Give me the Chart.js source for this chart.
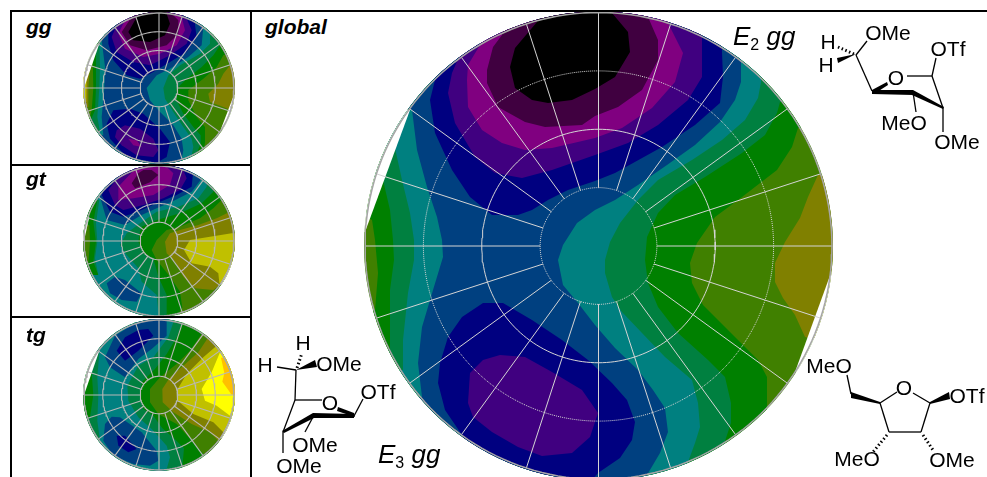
<!DOCTYPE html>
<html><head><meta charset="utf-8">
<script src="https://cdn.jsdelivr.net/npm/chart.js@4/dist/chart.umd.min.js"></script>
<style>
html,body{margin:0;padding:0;background:#fff;width:987px;height:477px;overflow:hidden;font-family:"Liberation Sans",Arial,sans-serif}
canvas{position:absolute;display:block}
.rule{position:absolute;background:#000;z-index:5}
.tag{position:absolute;font:italic bold 21px "Liberation Sans",Arial,sans-serif;color:#000;z-index:6;line-height:1}
svg{position:absolute;left:0;top:0;z-index:6}
svg text{font-family:"Liberation Sans",Arial,sans-serif;font-size:21px;fill:#000;text-anchor:middle;dominant-baseline:central}
svg line{stroke:#000;stroke-width:1.3}
</style></head><body>
<div class="rule" style="left:10px;top:10px;width:977px;height:2px"></div>
<div class="rule" style="left:10px;top:10px;width:2px;height:467px"></div>
<div class="rule" style="left:250px;top:10px;width:2px;height:467px"></div>
<div class="rule" style="left:10px;top:164px;width:240px;height:2px"></div>
<div class="rule" style="left:10px;top:316px;width:240px;height:2px"></div>
<div class="tag" style="left:26px;top:16px">gg</div>
<div class="tag" style="left:26px;top:168px">gt</div>
<div class="tag" style="left:26px;top:324px">tg</div>
<div class="tag" style="left:265px;top:16px">global</div>
<canvas id="cGlobal" width="480" height="480" style="left:358px;top:5px"></canvas>
<canvas id="cGg" width="160" height="160" style="left:79px;top:8px"></canvas>
<canvas id="cGt" width="160" height="160" style="left:79px;top:161px"></canvas>
<canvas id="cTg" width="160" height="160" style="left:79px;top:315px"></canvas>
<svg width="987" height="477" viewBox="0 0 987 477">
  <text x="733" y="45" style="font-size:26px;font-style:italic;text-anchor:start;dominant-baseline:alphabetic">E<tspan dy="5" style="font-size:16px;font-style:normal">2</tspan><tspan dy="-5"> gg</tspan></text>
  <text x="378" y="463" style="font-size:26px;font-style:italic;text-anchor:start;dominant-baseline:alphabetic">E<tspan dy="5" style="font-size:16px;font-style:normal">3</tspan><tspan dy="-5"> gg</tspan></text>
  <!-- E2 gg -->
  <text x="828" y="41">H</text><text x="826" y="64">H</text><text x="888" y="32">OMe</text><text x="948" y="48">OTf</text><text x="896" y="77">O</text><text x="904" y="122">MeO</text><text x="957" y="141">OMe</text>
  <line x1="856" y1="55" x2="867" y2="41"/><line x1="856" y1="55" x2="872" y2="91"/><line x1="907" y1="76" x2="932" y2="76"/><line x1="932" y1="76" x2="936" y2="58"/><line x1="932" y1="76" x2="943" y2="108"/><line x1="943" y1="108" x2="943" y2="132"/><line x1="913" y1="92" x2="916" y2="112"/>
  <line x1="854" y1="54" x2="838" y2="47" stroke-dasharray="1.5 2.5" style="stroke-width:3"/>
  <polygon points="856,54 837,58 838,63"/><polygon points="872,90 887,82 888,85 874,94"/><polygon points="872,90 913,90 913,95 872,94"/><polygon points="913,90 944,107 943,109 912,95"/>
  <!-- E3 gg -->
  <text x="303" y="342">H</text><text x="265" y="364">H</text><text x="339" y="363">OMe</text><text x="378" y="391">OTf</text><text x="330" y="402">O</text><text x="315" y="444">OMe</text><text x="299" y="465">OMe</text>
  <line x1="296" y1="370" x2="277" y2="367"/><line x1="296" y1="370" x2="295" y2="400"/><line x1="295" y1="400" x2="322" y2="400"/><line x1="354" y1="416" x2="363" y2="399"/><line x1="295" y1="400" x2="283" y2="432"/><line x1="313" y1="417" x2="305" y2="432"/><line x1="283" y1="432" x2="283" y2="453"/>
  <line x1="297" y1="368" x2="302" y2="353" stroke-dasharray="1.5 2.5" style="stroke-width:3"/>
  <polygon points="296,370 315,360 317,367"/><polygon points="338,407 354,413 355,417 337,411"/><polygon points="313,413 354,414 354,418 313,418"/><polygon points="313,413 314,418 284,433 282,431"/>
  <!-- furanose -->
  <text x="829" y="365">MeO</text><text x="904" y="387">O</text><text x="967" y="395">OTf</text><text x="857" y="458">MeO</text><text x="952" y="459">OMe</text>
  <line x1="851" y1="394" x2="847" y2="375"/><line x1="880" y1="403" x2="897" y2="392"/><line x1="913" y1="393" x2="930" y2="403"/><line x1="930" y1="403" x2="921" y2="432"/><line x1="921" y1="432" x2="889" y2="432"/><line x1="889" y1="432" x2="880" y2="403"/>
  <line x1="887" y1="435" x2="873" y2="452" stroke-dasharray="1.5 2.5" style="stroke-width:3"/><line x1="923" y1="435" x2="933" y2="450" stroke-dasharray="1.5 2.5" style="stroke-width:3"/>
  <polygon points="880,402 851,392 851,398 880,404"/><polygon points="930,402 949,392 950,399 930,404"/>
</svg>
<script>
// Contour levels, lowest to highest
const cBlack='#000000', cPlum='#400040', cPurple='#800080', cIndigo='#400080', cNavy='#000080', cBlue='#004080',
      cTeal='#008080', cSea='#008040', cGreen='#008000', cLeaf='#408000', cOlive='#808000', cLime='#c0c000', cYellow='#ffff00', cOrange='#ffc000', cBlank='#ffffff';

// Rings and spokes of the pseudorotation wheel
const ringFractions=[0.25,0.5,0.75,1];
const spokeAngles=[0,18,36,54,72,90,108,126,144,162,180,198,216,234,252,270,288,306,324,342];

// global
const gBase=[[-240,-240],[240,-240],[240,240],[-240,240]];
const gOlive=[[220,70],[210,48],[202,27],[187,3],[177,-18],[177,-37],[185,-53],[197,-70],[207,-92],[240,-100],[240,70]];
const gGreen=[[200,117],[194,98],[179,75],[144,48],[117,28],[99,2],[92,-18],[94,-38],[105,-60],[130,-85],[160,-115],[169,-132],[169,-162],[169,-240],[-240,-240],[-240,-70],[-223,-65],[-220,-28],[-223,5],[-226,25],[-234,30],[-240,30],[-240,240],[240,240],[240,117]];
const gSea=[[182,143],[179,132],[167,110],[144,92],[107,68],[77,50],[60,32],[49,8],[47,-15],[50,-38],[60,-62],[80,-88],[110,-115],[127,-132],[133,-158],[133,-178],[127,-196],[127,-240],[-240,-240],[-240,-105],[-208,-104],[-208,-75],[-208,-45],[-204,-15],[-205,5],[-208,35],[-215,65],[-240,70],[-240,240],[240,240],[240,145]];
const gTeal=[[163,167],[163,163],[160,147],[147,125],[124,105],[94,85],[60,65],[40,45],[22,22],[12,3],[7,-15],[7,-28],[14,-52],[24,-67],[44,-88],[67,-112],[94,-135],[100,-158],[102,-182],[97,-198],[90,-217],[90,-240],[-240,-240],[-240,-125],[-195,-125],[-195,-95],[-190,-48],[-184,-15],[-184,5],[-188,32],[-196,65],[-203,97],[-240,100],[-240,240],[240,240],[240,170]];
const gBlue=[[143,180],[143,163],[137,145],[122,123],[97,100],[69,80],[40,60],[17,45],[-3,35],[-21,22],[-35,0],[-40,-15],[-35,-40],[-20,-58],[-3,-80],[17,-103],[40,-125],[55,-145],[67,-163],[70,-187],[62,-208],[49,-230],[49,-240],[-240,-240],[-240,-152],[-176,-152],[-180,-118],[-176,-82],[-165,-45],[-155,-12],[-156,5],[-161,28],[-171,58],[-181,95],[-186,135],[-240,140],[-240,240],[143,240]];
const gNavyTop=[[124,193],[125,168],[122,142],[97,120],[64,98],[17,72],[-3,64],[-30,55],[-50,45],[-66,35],[-80,30],[-106,30],[-128,48],[-146,75],[-163,112],[-168,145],[-163,165],[-175,240],[124,240]];
const gNavyLow=[[-115,-58],[-95,-58],[-66,-75],[-36,-95],[-10,-115],[14,-138],[29,-155],[37,-177],[34,-195],[22,-213],[0,-228],[-10,-240],[-136,-240],[-136,-190],[-153,-165],[-160,-138],[-158,-118],[-150,-92],[-136,-72]];
const gIndigoTop=[[104,207],[104,168],[90,145],[60,120],[30,102],[-3,90],[-46,75],[-76,67],[-103,72],[-123,88],[-143,122],[-150,152],[-146,172],[-140,186],[-140,240],[104,240]];
const gIndigoLow=[[-128,-128],[-115,-115],[-98,-110],[-73,-112],[-46,-127],[-16,-145],[0,-168],[-8,-192],[-26,-208],[-56,-211],[-80,-202],[-106,-187],[-125,-172],[-130,-158]];
const gPurple=[[71,220],[85,192],[77,163],[54,137],[24,117],[-3,107],[-46,97],[-73,95],[-96,102],[-116,115],[-130,138],[-131,165],[-130,180],[-118,200],[-118,240],[71,240]];
const gPlum=[[50,228],[60,205],[60,185],[44,155],[20,138],[-3,129],[-16,120],[-53,118],[-73,123],[-100,138],[-111,162],[-111,175],[-105,198],[-96,210],[-96,240],[50,240]];
const gBlack=[[14,232],[30,213],[32,193],[17,168],[-3,156],[-26,145],[-50,142],[-66,145],[-83,157],[-88,178],[-83,197],[-61,223],[-61,240],[14,240]];
const gWedgeL=[[-188,135],[-233,13],[-260,13],[-260,135]];
const gWedgeR=[[234,-25],[197,-127],[260,-127],[260,-25]];

// gg
const aBase=gBase;
const aOlive=[[213,68],[193,43],[178,13],[148,-17],[153,-42],[193,-57],[218,-67],[240,-67],[240,68]];
const aGreen=[[203,103],[193,98],[173,63],[133,28],[88,-7],[88,-37],[113,-87],[138,-117],[138,-165],[133,-190],[133,-240],[-240,-240],[-240,-87],[-207,-87],[-202,-67],[-197,0],[-199,93],[-190,123],[-190,240],[203,240]];
const aLeftOlive=[[-207,63],[-212,0],[-212,-57],[-240,-60],[-240,63]];
const aLeftLime=[[-217,48],[-219,0],[-217,-42],[-240,-42],[-240,48]];
const aLeftYellow=[[-222,38],[-226,0],[-222,-32],[-240,-32],[-240,38]];
const aSea=[[183,128],[163,98],[128,63],[83,28],[53,-2],[53,-37],[73,-77],[103,-117],[125,-142],[125,-167],[113,-195],[113,-240],[-240,-240],[-240,-97],[-205,-97],[-192,-67],[-189,0],[-189,113],[-185,125],[-185,240],[183,240]];
const aTeal=[[153,165],[153,133],[123,103],[63,68],[28,38],[13,0],[18,-32],[43,-72],[73,-117],[98,-152],[103,-177],[98,-200],[98,-240],[-240,-240],[-240,-132],[-177,-132],[-185,-87],[-179,0],[-177,63],[-179,133],[-179,240],[153,240]];
const aBlue=[[133,183],[128,128],[88,93],[33,58],[-7,38],[-37,0],[-27,-37],[-2,-67],[43,-112],[68,-152],[73,-187],[68,-215],[68,-240],[-240,-240],[-240,-142],[-167,-142],[-172,-87],[-164,0],[-162,63],[-172,143],[-172,240],[133,240]];
const aNavyTop=[[108,190],[113,153],[83,108],[33,78],[-17,48],[-57,28],[-97,38],[-137,83],[-152,133],[-152,173],[-152,240],[108,240]];
const aNavyLow=[[-137,-67],[-87,-62],[-47,-77],[3,-122],[33,-162],[23,-207],[-7,-224],[-97,-207],[-147,-152],[-157,-107]];
const aIndigoTop=[[83,208],[98,173],[83,133],[33,98],[-27,68],[-77,78],[-127,108],[-142,153],[-127,188],[-127,240],[83,240]];
const aIndigoLow=[[-127,-127],[-102,-112],[-57,-122],[-17,-152],[-2,-187],[-17,-207],[-67,-202],[-112,-172],[-132,-147]];
const aPurpleLow=[[-92,-152],[-67,-157],[-52,-177],[-77,-172]];
const aPurple=[[68,213],[78,173],[53,128],[3,103],[-47,93],[-102,118],[-122,163],[-102,203],[-102,240],[68,240]];
const aPlum=[[43,218],[58,203],[58,163],[23,128],[-37,113],[-87,128],[-112,168],[-82,213],[-82,240],[43,240]];
const aBlack=[[23,223],[33,193],[18,158],[-27,138],[-77,143],[-92,168],[-62,221],[-62,240],[23,240]];
const aWedgeL=[[-179,133],[-225,0],[-250,0],[-250,133]];
const aWedgeR=[[225,-20],[185,-125],[250,-125],[250,-20]];

// gt
const bBase=gBase;
const bLeaf=[[193,128],[163,98],[123,68],[63,43],[23,33],[-7,3],[-22,-27],[-7,-57],[33,-107],[63,-152],[70,-200],[60,-215],[60,-240],[240,-240],[240,128]];
const bOlive=[[213,88],[173,68],[118,48],[63,33],[33,23],[18,-2],[23,-37],[48,-62],[73,-107],[108,-142],[163,-147],[185,-130],[240,-130],[240,90]];
const bLime=[[218,23],[153,13],[93,3],[75,-27],[98,-67],[153,-77],[178,-97],[181,-127],[240,-127],[240,23]];
const bSea=[[163,148],[128,113],[63,83],[-7,63],[-52,43],[-57,28],[-62,-2],[-47,-37],[-17,-52],[-2,-107],[23,-162],[23,-212],[23,-240],[-240,-240],[-240,240],[163,240]];
const bLeftGreen=[[-185,123],[-197,58],[-189,-2],[-197,-62],[-182,-102],[-240,-102],[-240,123]];
const bLeftLeaf=[[-209,48],[-207,-2],[-212,-67],[-240,-67],[-240,48]];
const bTeal=[[143,163],[118,128],[58,103],[-7,88],[-57,53],[-97,23],[-117,-12],[-97,-42],[-62,-82],[-52,-122],[-7,-162],[-2,-212],[0,-240],[-240,-240],[-240,-102],[-182,-102],[-192,-52],[-185,-2],[-189,53],[-179,123],[-240,125],[-240,240],[143,240]];
const bBlueTop=[[125,183],[98,148],[43,120],[-7,98],[-52,78],[-102,48],[-157,63],[-177,133],[-177,240],[125,240]];
const bBlueLow=[[-157,-127],[-132,-107],[-102,-117],[-52,-157],[-67,-182],[-112,-177],[-147,-157]];
const bNavy=[[103,213],[98,163],[53,138],[-7,113],[-52,93],[-107,73],[-147,88],[-172,138],[-147,183],[-147,240],[103,240]];
const bIndigo=[[73,213],[83,188],[63,153],[13,128],[-47,108],[-107,93],[-132,108],[-152,153],[-122,193],[-122,240],[73,240]];
const bPurple=[[23,223],[43,203],[33,168],[-17,138],[-77,128],[-122,123],[-122,163],[-72,216],[-72,240],[23,240]];
const bPlum=[[-62,203],[-82,173],[-72,158],[-27,176],[-2,198],[-22,213],[-47,213]];
const bWedgeL=[[-209,73],[-225,0],[-250,0],[-250,73]];
const bWedgeR=[[225,-52],[183,-132],[250,-132],[250,-52]];

// tg
const tBase=gBase;
const tLeaf=[[128,183],[93,133],[53,93],[3,53],[-27,18],[-27,-22],[-2,-57],[53,-87],[103,-142],[133,-177],[240,-177],[240,183]];
const tOlive=[[148,173],[118,128],[73,88],[33,53],[10,18],[11,-22],[43,-52],[98,-87],[153,-112],[178,-137],[240,-137],[240,173]];
const tLime=[[173,148],[133,113],[83,63],[56,18],[56,-17],[103,-57],[163,-82],[193,-112],[240,-112],[240,148]];
const tYellow=[[183,128],[158,68],[128,18],[138,-17],[173,-32],[213,-62],[240,-62],[240,128]];
const tOrange=[[186,112],[196,66],[190,40],[218,1],[240,1],[240,112]];
const tSea=[[68,213],[53,173],[23,123],[-12,78],[-52,38],[-57,-2],[-47,-42],[-17,-62],[10,-100],[50,-135],[75,-160],[70,-215],[70,-240],[-240,-240],[-240,240],[68,240]];
const tLeftGreen=[[-202,68],[-197,0],[-207,-67],[-240,-67],[-240,68]];
const tTeal=[[43,218],[28,173],[-17,113],[-62,88],[-95,28],[-92,-17],[-62,-67],[-22,-102],[23,-152],[33,-187],[23,-222],[23,-240],[-240,-240],[-240,-137],[-177,-137],[-185,-77],[-182,0],[-185,53],[-179,128],[-240,128],[-240,240],[43,240]];
const tBlueTop=[[23,215],[23,178],[-22,138],[-62,108],[-102,53],[-147,83],[-162,113],[-132,178],[-67,218],[-7,240],[23,240]];
const tNavyTop=[[-32,198],[-17,178],[-62,133],[-102,103],[-127,133],[-102,173],[-62,195]];
const tBlueLow=[[-142,-65],[-117,-67],[-52,-112],[-7,-167],[-2,-197],[-27,-212],[-77,-207],[-137,-182],[-167,-137],[-162,-87]];
const tNavyLow=[[-127,-122],[-102,-122],[-67,-162],[-92,-172],[-122,-152]];
const tWedgeL=[[-179,133],[-225,0],[-250,0],[-250,133]];
const tWedgeR=[[225,-50],[185,-130],[250,-130],[250,-50]];

const globalBands=[[cLeaf,gBase],[cOlive,gOlive],[cGreen,gGreen],[cSea,gSea],[cTeal,gTeal],[cBlue,gBlue],[cNavy,gNavyTop],[cNavy,gNavyLow],[cIndigo,gIndigoTop],[cIndigo,gIndigoLow],[cPurple,gPurple],[cPlum,gPlum],[cBlack,gBlack],[cBlank,gWedgeL],[cBlank,gWedgeR]];
const ggBands=[[cLeaf,aBase],[cOlive,aOlive],[cOlive,aLeftOlive],[cLime,aLeftLime],[cYellow,aLeftYellow],[cGreen,aGreen],[cSea,aSea],[cTeal,aTeal],[cBlue,aBlue],[cNavy,aNavyTop],[cNavy,aNavyLow],[cIndigo,aIndigoTop],[cIndigo,aIndigoLow],[cPurple,aPurpleLow],[cPurple,aPurple],[cPlum,aPlum],[cBlack,aBlack],[cBlank,aWedgeL],[cBlank,aWedgeR]];
const gtBands=[[cGreen,bBase],[cLeaf,bLeaf],[cOlive,bOlive],[cLime,bLime],[cSea,bSea],[cGreen,bLeftGreen],[cLeaf,bLeftLeaf],[cTeal,bTeal],[cBlue,bBlueTop],[cBlue,bBlueLow],[cNavy,bNavy],[cIndigo,bIndigo],[cPurple,bPurple],[cPlum,bPlum],[cBlank,bWedgeL],[cBlank,bWedgeR]];
const tgBands=[[cGreen,tBase],[cLeaf,tLeaf],[cOlive,tOlive],[cLime,tLime],[cYellow,tYellow],[cOrange,tOrange],[cSea,tSea],[cGreen,tLeftGreen],[cTeal,tTeal],[cBlue,tBlueTop],[cNavy,tNavyTop],[cBlue,tBlueLow],[cNavy,tNavyLow],[cBlank,tWedgeL],[cBlank,tWedgeR]];

function wheel(id,bands,R,cx,cy,big){
  const ds=bands.map(([color,pts])=>({data:pts.map(p=>({x:p[0],y:p[1]})),backgroundColor:color,borderWidth:0,pointRadius:0,tension:0,fill:'shape'}));
  const gridCol=big?'#d4d4d4':'#b8b8b8', w=big?1:1.1;
  for(const a of spokeAngles){
    const t=a*Math.PI/180;
    ds.push({data:[ringFractions[0],ringFractions[3]].map(f=>({x:cx+R*f*Math.sin(t),y:cy+R*f*Math.cos(t)})),borderColor:gridCol,borderWidth:w,pointRadius:0,tension:0,fill:false});
  }
  ringFractions.forEach((f,i)=>{
    const pts=[];
    for(let d=0;d<=360;d+=2){const t=d*Math.PI/180;pts.push({x:cx+R*f*Math.sin(t),y:cy+R*f*Math.cos(t)});}
    ds.push({data:pts,borderColor:i===3?(big?'#a6a6a6':'#a8a8a8'):gridCol,borderWidth:i===3?1.6:w,borderDash:(big&&(i===0||i===2))?[1,1]:[],pointRadius:0,tension:0,fill:false});
  });
  ds.forEach((d,i)=>{d.order=ds.length-i;});
  new Chart(document.getElementById(id),{type:'line',data:{datasets:ds},options:{
    responsive:false,animation:false,events:[],layout:{padding:0},
    plugins:{legend:{display:false},tooltip:{enabled:false},title:{display:false}},
    elements:{line:{capBezierPoints:false}},
    scales:{x:{type:'linear',min:-240,max:240,display:false},y:{type:'linear',min:-240,max:240,display:false}}
  },plugins:[{id:'discClip',
    beforeDatasetsDraw(c){const s=c.scales,k=c.width/480;c.ctx.save();c.ctx.beginPath();c.ctx.arc(s.x.getPixelForValue(cx),s.y.getPixelForValue(cy),R*k+1,0,Math.PI*2);c.ctx.clip();},
    afterDatasetsDraw(c){c.ctx.restore();}
  }]});
}
wheel('cGlobal',globalBands,233.5,0.5,-1,true);
wheel('cGg',ggBands,225,0,0,false);
wheel('cGt',gtBands,225,0,0,false);
wheel('cTg',tgBands,225,0,0,false);
</script>
</body></html>
